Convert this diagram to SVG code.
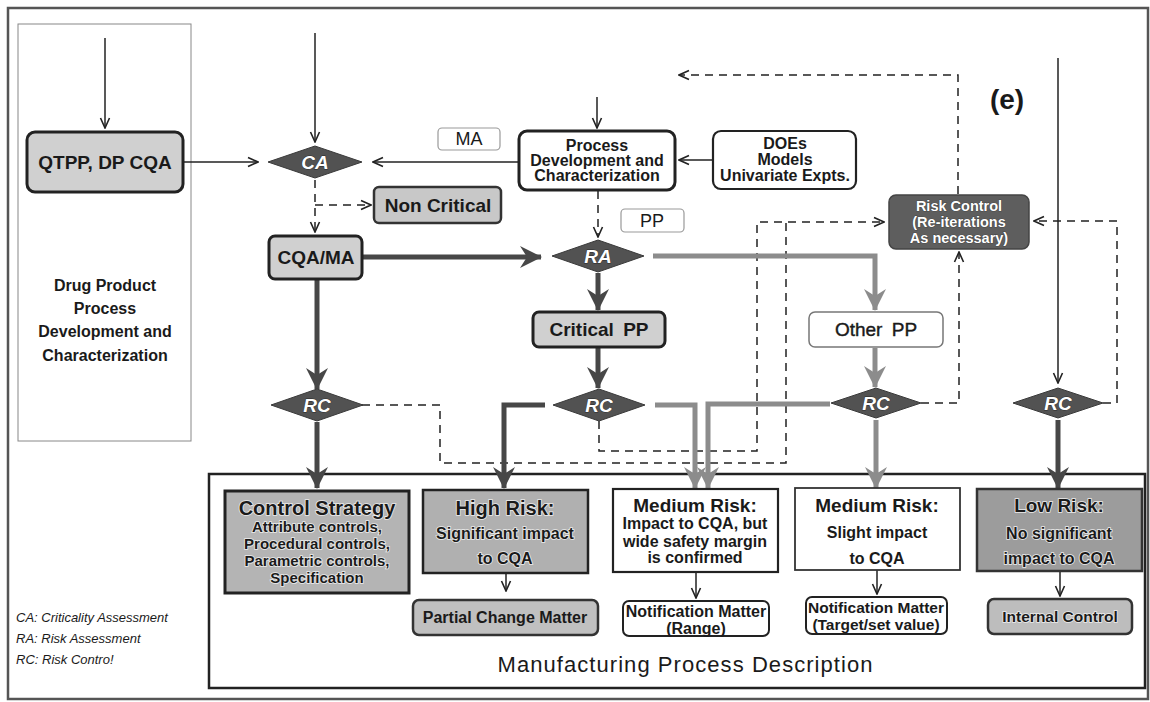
<svg xmlns="http://www.w3.org/2000/svg" width="1150" height="702" viewBox="0 0 1150 702">
<defs>
<style>
.t{font-family:"Liberation Sans",Arial,sans-serif;text-anchor:middle;fill:#1a1a1a}
.b{font-weight:bold}
.dia{fill:#525252;stroke:#3a3a3a;stroke-width:1}
.dt{font-family:"Liberation Sans",Arial,sans-serif;font-weight:bold;font-style:italic;font-size:19px;fill:#fff;stroke:#2a2a2a;stroke-width:0.8;paint-order:stroke;text-anchor:middle}
.wt{fill:#fff;stroke:#333;stroke-width:0.7;paint-order:stroke}
.halo{stroke:#ececec;stroke-width:1.6;paint-order:stroke}
.thin{stroke:#222;stroke-width:1.5;fill:none;marker-end:url(#v)}
.dash{stroke:#222;stroke-width:1.5;fill:none;stroke-dasharray:8 6}
.dasha{stroke:#222;stroke-width:1.5;fill:none;stroke-dasharray:8 6;marker-end:url(#v)}
.thk{stroke:#474747;stroke-width:5;fill:none;marker-end:url(#tk)}
.thkl{stroke:#8c8c8c;stroke-width:5;fill:none;marker-end:url(#tkl)}
.gbox{fill:#d0d0d0;stroke:#222;stroke-width:3}
.lbl{fill:#fff;stroke:#999;stroke-width:1.2}
</style>
<marker id="v" viewBox="0 0 12 12" refX="11" refY="6" markerWidth="12" markerHeight="12" markerUnits="userSpaceOnUse" orient="auto">
<path d="M1,1.5 L11,6 L1,10.5" fill="none" stroke="#222" stroke-width="1.6"/>
</marker>
<marker id="tk" viewBox="0 0 22 22" refX="21" refY="11" markerWidth="22" markerHeight="22" markerUnits="userSpaceOnUse" orient="auto">
<path d="M0,0 L22,11 L0,22 L7,11 z" fill="#474747"/>
</marker>
<marker id="tkl" viewBox="0 0 22 22" refX="21" refY="11" markerWidth="22" markerHeight="22" markerUnits="userSpaceOnUse" orient="auto">
<path d="M0,0 L22,11 L0,22 L7,11 z" fill="#8c8c8c"/>
</marker>
</defs>
<rect width="1150" height="702" fill="#fff"/>
<rect x="8" y="8" width="1140" height="691" fill="none" stroke="#555" stroke-width="2.5"/>
<g id="panel">
<rect x="18" y="24" width="173" height="417" fill="none" stroke="#888" stroke-width="1"/>
<text class="t b" font-size="16" x="105" y="291">Drug Product</text>
<text class="t b" font-size="16" x="105" y="314">Process</text>
<text class="t b" font-size="16" x="105" y="337">Development and</text>
<text class="t b" font-size="16" x="105" y="361">Characterization</text>
</g>
<g id="mpd">
<rect x="209" y="474" width="936" height="214" fill="none" stroke="#222" stroke-width="2.5"/>
<text class="t" font-size="22" x="685" y="672" textLength="375">Manufacturing Process Description</text>
</g>
<g id="connectors">
<path class="thin" d="M105,38 V128"/>
<path class="thin" d="M315,33 V142"/>
<path class="thin" d="M183,162 H258"/>
<path class="thin" d="M519,162 H373"/>
<path class="thin" d="M597,97 V128"/>
<path class="thin" d="M713,160 H679"/>
<path class="thin" d="M1058,58 V383"/>
<path class="thin" d="M506,573 V591"/>
<path class="thin" d="M696,572 V598"/>
<path class="thin" d="M877,570 V594"/>
<path class="thin" d="M1060,571 V596"/>
<path class="dasha" d="M315,180 V232"/>
<path class="dasha" d="M315,205 H371"/>
<path class="dasha" d="M598,191 V237"/>
<path class="dasha" d="M958,194 V75 H679"/>
<path class="dasha" d="M599,421 V451 H757 V222 H884"/>
<path class="dash" d="M362,405 H440 V463 H786 V222"/>
<path class="dasha" d="M921,403 H959 V252"/>
<path class="dasha" d="M1103,403 H1117 V221 H1034"/>
<path class="thk" d="M362,257 H541"/>
<path class="thk" d="M598,273 V310"/>
<path class="thk" d="M598,348 V388"/>
<path class="thk" d="M317,280 V389"/>
<path class="thk" d="M545,405 H504 V488"/>
<path class="thk" d="M317,422 V488"/>
<path class="thk" d="M1058,420 V488"/>
<path class="thkl" d="M653,256 H875 V310"/>
<path class="thkl" d="M875,348 V387"/>
<path class="thkl" d="M655,405 H695 V488"/>
<path class="thkl" d="M830,404 H708 V488"/>
<path class="thkl" d="M876,420 V488"/>
</g>
<g id="qtpp">
<rect x="27" y="132" width="156" height="60" rx="8" class="gbox"/>
<text class="t b" font-size="19" x="105" y="169">QTPP, DP CQA</text>
</g>
<g id="ca">
<polygon class="dia" points="268,162 315,146 362,162 315,178"/>
<text class="dt" x="315" y="169">CA</text>
</g>
<g id="ma">
<rect x="438" y="128" width="62" height="22" rx="4" class="lbl"/>
<text class="t" font-size="18" x="469" y="145">MA</text>
</g>
<g id="process">
<rect x="519" y="131" width="156" height="59" rx="8" fill="#fff" stroke="#222" stroke-width="3"/>
<text class="t b" font-size="16" x="597" y="151">Process</text>
<text class="t b" font-size="16" x="597" y="166">Development and</text>
<text class="t b" font-size="16" x="597" y="181">Characterization</text>
</g>
<g id="does">
<rect x="713" y="131" width="143" height="58" rx="8" fill="#fff" stroke="#222" stroke-width="2.2"/>
<text class="t b" font-size="16" x="785" y="149">DOEs</text>
<text class="t b" font-size="16" x="785" y="165">Models</text>
<text class="t b" font-size="16" x="785" y="181">Univariate Expts.</text>
</g>
<g id="e-label">
<text class="t b" font-size="28" x="1007" y="109">(e)</text>
</g>
<g id="noncritical">
<rect x="374" y="187" width="127" height="36" rx="5" fill="#c8c8c8" stroke="#333" stroke-width="2.5"/>
<text class="t b" font-size="19" x="438" y="212">Non Critical</text>
</g>
<g id="pp">
<rect x="621" y="209" width="63" height="23" rx="4" class="lbl"/>
<text class="t" font-size="18" x="652" y="227">PP</text>
</g>
<g id="riskcontrol">
<rect x="889" y="195" width="140" height="54" rx="7" fill="#5e5e5e" stroke="#444" stroke-width="1.5"/>
<text class="t b wt" font-size="14.5" x="959" y="211">Risk Control</text>
<text class="t b wt" font-size="14.5" x="959" y="227">(Re-iterations</text>
<text class="t b wt" font-size="14.5" x="959" y="243">As necessary)</text>
</g>
<g id="cqama">
<rect x="269" y="236" width="93" height="43" rx="6" class="gbox"/>
<text class="t b" font-size="19" x="316" y="264">CQA/MA</text>
</g>
<g id="ra">
<polygon class="dia" points="552,256 598,240 644,256 598,272"/>
<text class="dt" x="598" y="263">RA</text>
</g>
<g id="criticalpp">
<rect x="533" y="312" width="132" height="35" rx="6" class="gbox"/>
<text class="t b" font-size="19" x="599" y="336" word-spacing="4">Critical PP</text>
</g>
<g id="otherpp">
<rect x="809" y="312" width="134" height="35" rx="6" fill="#fff" stroke="#777" stroke-width="1.5"/>
<text class="t" font-size="19" x="876" y="336" word-spacing="4" stroke="#1a1a1a" stroke-width="0.4">Other PP</text>
</g>
<g id="rc1">
<polygon class="dia" points="271,405 317,389 363,405 317,421"/>
<text class="dt" x="317" y="412">RC</text>
</g>
<g id="rc2">
<polygon class="dia" points="553,405 599,389 645,405 599,421"/>
<text class="dt" x="599" y="412">RC</text>
</g>
<g id="rc3">
<polygon class="dia" points="831,403 876,388 921,403 876,418"/>
<text class="dt" x="876" y="410">RC</text>
</g>
<g id="rc4">
<polygon class="dia" points="1013,403 1058,388 1103,403 1058,418"/>
<text class="dt" x="1058" y="410">RC</text>
</g>
<g id="controlstrategy">
<rect x="225" y="491" width="184" height="102" fill="#b4b4b4" stroke="#222" stroke-width="3"/>
<text class="t b halo" font-size="20" x="317" y="515">Control Strategy</text>
<text class="t b halo" font-size="15" x="317" y="532">Attribute controls,</text>
<text class="t b halo" font-size="15" x="317" y="549">Procedural controls,</text>
<text class="t b halo" font-size="15" x="317" y="566">Parametric controls,</text>
<text class="t b halo" font-size="15" x="317" y="583">Specification</text>
</g>
<g id="highrisk">
<rect x="423" y="490" width="165" height="83" fill="#b0b0b0" stroke="#222" stroke-width="2.5"/>
<text class="t b halo" font-size="20" x="505" y="515">High Risk:</text>
<text class="t b halo" font-size="16" x="505" y="539">Significant impact</text>
<text class="t b halo" font-size="16" x="505" y="564">to CQA</text>
</g>
<g id="medium1">
<rect x="613" y="489" width="165" height="83" fill="#fff" stroke="#222" stroke-width="2.2"/>
<text class="t b" font-size="19" x="695" y="512">Medium Risk:</text>
<text class="t b" font-size="16" x="695" y="529">Impact to CQA, but</text>
<text class="t b" font-size="16" x="695" y="547">wide safety margin</text>
<text class="t b" font-size="16" x="695" y="563">is confirmed</text>
</g>
<g id="medium2">
<rect x="795" y="488" width="165" height="82" fill="#fff" stroke="#333" stroke-width="1.8"/>
<text class="t b" font-size="19" x="877" y="512">Medium Risk:</text>
<text class="t b" font-size="16" x="877" y="538">Slight impact</text>
<text class="t b" font-size="16" x="877" y="564">to CQA</text>
</g>
<g id="lowrisk">
<rect x="977" y="489" width="165" height="82" fill="#9c9c9c" stroke="#333" stroke-width="2.5"/>
<text class="t b halo" font-size="19" x="1059" y="512">Low Risk:</text>
<text class="t b halo" font-size="16" x="1059" y="539">No significant</text>
<text class="t b halo" font-size="16" x="1059" y="564">impact to CQA</text>
</g>
<g id="partialchange">
<rect x="413" y="600" width="185" height="35" rx="6" fill="#c0c0c0" stroke="#333" stroke-width="2.5"/>
<text class="t b" font-size="16" x="505" y="623">Partial Change Matter</text>
</g>
<g id="notif-range">
<rect x="623" y="601" width="146" height="35" rx="6" fill="#fff" stroke="#222" stroke-width="2"/>
<text class="t b" font-size="16" x="696" y="617">Notification Matter</text>
<text class="t b" font-size="16" x="696" y="634">(Range)</text>
</g>
<g id="notif-target">
<rect x="806" y="597" width="141" height="37" rx="6" fill="#fff" stroke="#222" stroke-width="2"/>
<text class="t b" font-size="15.5" x="876" y="613">Notification Matter</text>
<text class="t b" font-size="15.5" x="876" y="630">(Target/set value)</text>
</g>
<g id="internalcontrol">
<rect x="988" y="599" width="144" height="35" rx="6" fill="#bdbdbd" stroke="#333" stroke-width="2.5"/>
<text class="t b halo" font-size="15.5" x="1060" y="622">Internal Control</text>
</g>
<g id="legend" font-family="Liberation Sans, Arial, sans-serif" font-style="italic" font-size="13" fill="#1a1a1a">
<text x="16" y="622">CA: Criticality Assessment</text>
<text x="16" y="643">RA: Risk Assessment</text>
<text x="16" y="664">RC: Risk Contro!</text>
</g>
</svg>
